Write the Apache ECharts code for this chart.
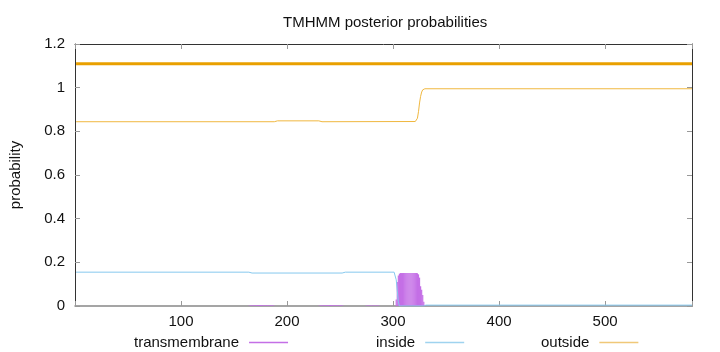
<!DOCTYPE html>
<html>
<head>
<meta charset="utf-8">
<script src="https://cdn.jsdelivr.net/npm/echarts@6/dist/echarts.min.js"></script>
<style>
html,body{margin:0;padding:0;background:#fff;}
#chart{width:720px;height:352px;}
</style>
</head>
<body>
<div id="chart"></div>
<script>
// ---- data ----
const chartTitle = 'TMHMM posterior probabilities';
const yAxisTitle = 'probability';
const seriesNames = ['transmembrane', 'inside', 'outside'];
const xTickLabels = [100, 200, 300, 400, 500];
const yTickLabels = [0, 0.2, 0.4, 0.6, 0.8, 1, 1.2];

// transmembrane posterior (impulses)
const tmResidues = [
  164,165,166,167,168,169,170,171,172,173,174,175,176,177,178,179,180,181,182,183,184,185,186,187,188,
  230,231,232,233,234,235,236,237,238,239,240,241,242,243,244,245,246,247,248,249,250,251,252,253,
  274,275,276,277,278,279,280,281,282,283,284,285,286,287,
  303,304,305,306,307,308,309,310,311,312,313,314,315,316,317,318,319,320,321,322,323,324,325,326,327,328,329,330
];
const tmValues = [
  0.001,0.002,0.003,0.004,0.004,0.004,0.004,0.004,0.004,0.004,0.004,0.004,0.004,0.004,0.004,0.004,0.004,0.004,0.004,0.004,0.004,0.004,0.003,0.002,0.001,
  0.001,0.002,0.003,0.004,0.004,0.004,0.004,0.004,0.004,0.004,0.004,0.004,0.004,0.004,0.004,0.004,0.004,0.004,0.004,0.004,0.003,0.003,0.002,0.001,
  0.001,0.002,0.002,0.002,0.002,0.002,0.002,0.002,0.002,0.002,0.002,0.002,0.002,0.001,
  0.03,0.11,0.14,0.148,0.151,0.151,0.151,0.151,0.151,0.151,0.151,0.151,0.151,0.151,0.151,0.151,0.151,0.151,0.151,0.151,0.15,0.145,0.13,0.09,0.075,0.05,0.02,0.005
];

// inside posterior (line)
const insideX = [1, 164, 167, 252, 255, 301, 302, 303, 304, 305, 306, 329, 331, 582];
const insideY = [0.155, 0.155, 0.151, 0.151, 0.155, 0.155, 0.15, 0.12, 0.07, 0.02, 0.0, 0.0, 0.004, 0.004];

// outside posterior (line)
const outsideX = [1, 188, 191, 230, 233, 321, 322, 323, 324, 325, 326, 327, 328, 330, 582];
const outsideY = [0.844, 0.844, 0.848, 0.848, 0.844, 0.845, 0.848, 0.86, 0.89, 0.93, 0.96, 0.98, 0.99, 0.995, 0.995];

// predicted topology bar (all outside)
const topologyX = [1, 582];
const topologyY = [1.11, 1.11];

const xMin = 0, xMax = 582;

// ---- build chart ----
const pairs = (xs, ys) => xs.map((x, i) => [x, ys[i]]);
const FONT = 'Liberation Sans, Arial, sans-serif';
const AXIS = '#333';
const FS = 15;

const chart = echarts.init(document.getElementById('chart'), null, {renderer: 'canvas'});
const baseX = {
  type: 'value', min: xMin, max: xMax, interval: 100,
  splitLine: {show: false},
  axisLine: {show: true, onZero: false, lineStyle: {color: AXIS, width: 1}},
  axisTick: {show: true, inside: true, length: 5, lineStyle: {color: '#999'}}
};
const baseY = {
  type: 'value', min: 0, max: 1.2, interval: 0.2,
  splitLine: {show: false},
  axisLine: {show: true, onZero: false, lineStyle: {color: AXIS, width: 1}},
  axisTick: {show: true, inside: true, length: 5, lineStyle: {color: '#999'}}
};
const legendBase = {
  orient: 'horizontal', top: 335, align: 'right', icon: 'rect', padding: 0,
  itemWidth: 39, itemHeight: 1.5, itemGap: 0,
  textStyle: {fontFamily: FONT, fontSize: FS, color: '#111', padding: [0, 5, 0, 0]}
};

chart.setOption({
  animation: false,
  backgroundColor: '#fff',
  title: {
    text: chartTitle, left: 278, top: 10,
    textStyle: {fontFamily: FONT, fontSize: FS, fontWeight: 'normal', color: '#111'}
  },
  legend: [
    Object.assign({}, legendBase, {left: 134, data: [seriesNames[0]]}),
    Object.assign({}, legendBase, {left: 376, data: [seriesNames[1]]}),
    Object.assign({}, legendBase, {left: 541, data: [seriesNames[2]]})
  ],
  grid: {left: 73, right: 28, top: 44, bottom: 46, containLabel: false},
  xAxis: [
    Object.assign({}, baseX, {
      position: 'bottom',
      axisLine: {show: true, onZero: false, lineStyle: {color: '#888', width: 1.5}},
      axisLabel: {
        show: true, margin: 8, fontFamily: FONT, fontSize: FS, color: '#111',
        formatter: v => (xTickLabels.indexOf(v) >= 0 ? String(v) : '')
      }
    }),
    Object.assign({}, baseX, {position: 'top', axisLabel: {show: false}})
  ],
  yAxis: [
    Object.assign({}, baseY, {
      position: 'left',
      name: yAxisTitle, nameLocation: 'middle', nameGap: 52, nameRotate: 90,
      nameTextStyle: {fontFamily: FONT, fontSize: FS, color: '#111'},
      axisLabel: {
        show: true, margin: 10, fontFamily: FONT, fontSize: FS, color: '#111',
        formatter: v => {
          const r = Math.round(v * 10) / 10;
          return yTickLabels.indexOf(r) >= 0 ? String(r) : '';
        }
      }
    }),
    Object.assign({}, baseY, {position: 'right', axisLabel: {show: false}})
  ],
  series: [
    {
      name: seriesNames[0], type: 'bar', xAxisIndex: 0, yAxisIndex: 0,
      barWidth: 1.2, data: pairs(tmResidues, tmValues),
      itemStyle: {color: '#c46fe6'}, z: 2
    },
    {
      name: seriesNames[1], type: 'line', xAxisIndex: 0, yAxisIndex: 0,
      showSymbol: false, data: pairs(insideX, insideY),
      lineStyle: {color: '#86c8ee', width: 1}, itemStyle: {color: '#9fd3ef'}, z: 3
    },
    {
      name: seriesNames[2], type: 'line', xAxisIndex: 0, yAxisIndex: 0,
      showSymbol: false, data: pairs(outsideX, outsideY),
      lineStyle: {color: '#f0b840', width: 1}, itemStyle: {color: '#f0c878'}, z: 3
    },
    {
      name: 'topology', type: 'line', xAxisIndex: 0, yAxisIndex: 0,
      showSymbol: false, data: pairs(topologyX, topologyY),
      lineStyle: {color: '#e9a000', width: 3}, z: 4
    }
  ]
});
</script>
</body>
</html>
